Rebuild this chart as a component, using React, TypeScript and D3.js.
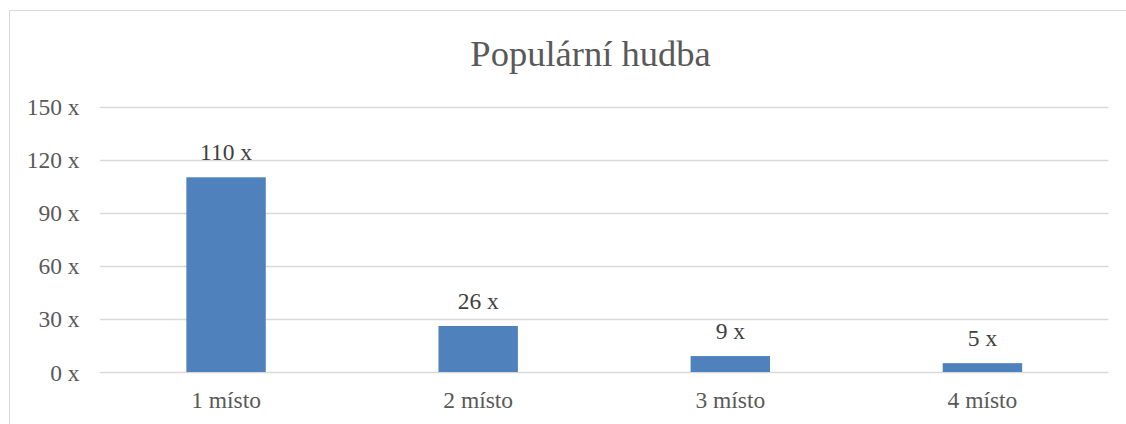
import React from "react";
import * as d3 from "d3";

const categories = ["1 místo", "2 místo", "3 místo", "4 místo"];
const values = [110, 26, 9, 5];
const yTicks = [0, 30, 60, 90, 120, 150];
const title = "Populární hudba";

export default function App() {
  const W = 1126, H = 424;
  const left = 100, right = 1108.5, top = 106.5, bottom = 372;
  const x = d3.scaleBand<string>().domain(categories).range([left, right]).padding(0);
  const y = d3.scaleLinear().domain([0, 150]).range([bottom, top]);
  const barW = x.bandwidth() * 0.315;
  const font = "'Liberation Serif', 'Times New Roman', serif";
  const fs = 23.5;
  return (
    <svg width={W} height={H} style={{ position: "absolute", left: 0, top: 0 }}>
      <rect x={0} y={0} width={W} height={H} fill="#fff" />
      <rect x={9.5} y={10.5} width={W + 10} height={H + 10} fill="#fff" stroke="#d9d9d9" strokeWidth={1} />
      <text x={590.5} y={66} textAnchor="middle" fontFamily={font} fontSize={36.5} fill="#595959">{title}</text>
      {yTicks.map((t) => (
        <g key={t}>
          <line x1={left} x2={right} y1={Math.round(y(t)) + 0.5} y2={Math.round(y(t)) + 0.5} stroke="#d9d9d9" strokeWidth={1.3} />
          <text x={79.5} y={y(t) + 8.5} textAnchor="end" fontFamily={font} fontSize={fs} fill="#595959">{t} x</text>
        </g>
      ))}
      {categories.map((c, i) => {
        const cx = x(c)! + x.bandwidth() / 2;
        return (
          <g key={c}>
            <rect x={cx - barW / 2} y={y(values[i])} width={barW} height={y(0) - y(values[i])} fill="#4f81bd" />
            <text x={cx} y={y(values[i]) - 17} textAnchor="middle" fontFamily={font} fontSize={fs} fill="#404040">{values[i]} x</text>
            <text x={cx} y={407.5} textAnchor="middle" fontFamily={font} fontSize={fs} fill="#595959">{c}</text>
          </g>
        );
      })}
    </svg>
  );
}
